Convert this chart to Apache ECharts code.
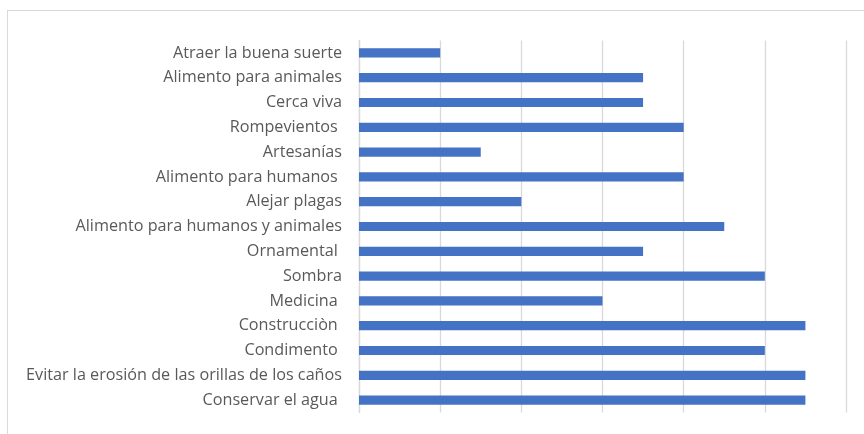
<!DOCTYPE html>
<html>
<head>
<meta charset="utf-8">
<script src="https://cdn.jsdelivr.net/npm/echarts@6/dist/echarts.min.js"></script>
<style>
  html, body { margin: 0; padding: 0; background: #fff; }
  #frame {
    position: absolute; left: 7px; top: 10px; width: 870px; height: 440px;
    border: 1px solid #d9d9d9; box-sizing: border-box;
  }
  #chart { position: absolute; left: 0; top: 0; width: 864px; height: 434px; }
</style>
</head>
<body>
<div id="frame"></div>
<div id="chart"></div>
<script>
  // usos, de arriba hacia abajo
  const categories = [
    'Atraer la buena suerte',
    'Alimento para animales',
    'Cerca viva',
    'Rompevientos ',
    'Artesanías',
    'Alimento para humanos ',
    'Alejar plagas',
    'Alimento para humanos y animales',
    'Ornamental ',
    'Sombra',
    'Medicina ',
    'Construcciòn ',
    'Condimento ',
    'Evitar la erosión de las orillas de los caños',
    'Conservar el agua '
  ];
  const values = [1, 3.5, 3.5, 4, 1.5, 4, 2, 4.5, 3.5, 5, 3, 5.5, 5, 5.5, 5.5];

  const chart = echarts.init(document.getElementById('chart'));
  chart.setOption({
    animation: false,
    grid: { left: 359, right: 18, top: 40.5, bottom: 21.5, containLabel: false },
    xAxis: {
      type: 'value',
      min: 0,
      max: 6,
      interval: 1,
      axisLabel: { show: false },
      axisLine: { show: false },
      axisTick: { show: false },
      splitLine: { lineStyle: { color: '#d9d9d9', width: 1.3 } }
    },
    yAxis: {
      type: 'category',
      data: categories,
      inverse: true,
      axisLine: { show: true, lineStyle: { color: '#d9d9d9', width: 1.3 } },
      axisTick: { show: false },
      axisLabel: {
        color: '#595959',
        fontFamily: 'Open Sans',
        fontSize: 16.2,
        margin: 17
      }
    },
    series: [{
      type: 'bar',
      data: values,
      barWidth: '37%',
      itemStyle: { color: '#4472C4' }
    }]
  });
</script>
</body>
</html>
